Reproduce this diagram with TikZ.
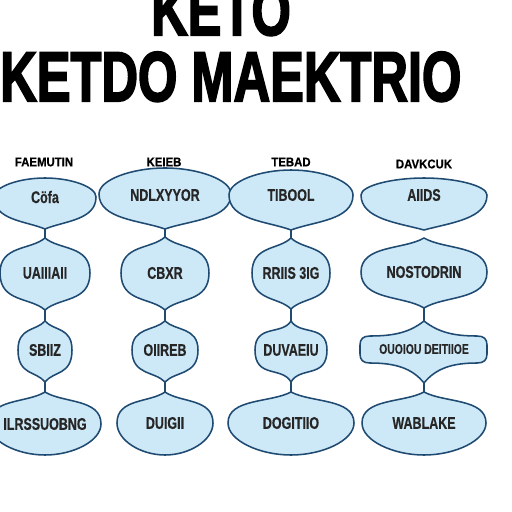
\documentclass[tikz,border=0pt]{standalone}
\usepackage{fontspec}
\setmainfont{Liberation Sans}
\newfontfamily\titlefont[FakeBold=3]{Liberation Sans Bold}
\newfontfamily\lblfont[FakeBold=0.6]{Liberation Sans Bold}
\usetikzlibrary{positioning}

\definecolor{blobfill}{HTML}{CDE8F6}
\definecolor{blobline}{HTML}{1F4A72}

\tikzset{
    blob/.style={draw=blobline, fill=blobfill, line width=1.1pt},
    link/.style={draw=blobline, line width=1.1pt},
    lbl/.style={font=\lblfont\fontsize{12}{12}\selectfont, text=black!85, xscale=0.74, inner sep=0pt},
    head/.style={font=\lblfont\fontsize{9}{9}\selectfont, xscale=0.9, inner sep=0pt},
    title/.style={font=\titlefont\fontsize{50}{50}\selectfont, xscale=0.72, inner sep=0pt}
}

% name, cx, cy, half width, top, bottom, top tip, bottom tip
\newcommand{\blob}[8]{%
    \pgfmathsetmacro{\bxl}{#2 - #4}%
    \pgfmathsetmacro{\bxr}{#2 + #4}%
    \pgfmathsetmacro{\bxa}{#2 - (0.5 - 0.5*#7)*#4}%
    \pgfmathsetmacro{\bxb}{#2 + (0.5 - 0.5*#7)*#4}%
    \pgfmathsetmacro{\bxc}{#2 - (0.5 - 0.5*#8)*#4}%
    \pgfmathsetmacro{\bxd}{#2 + (0.5 - 0.5*#8)*#4}%
    \pgfmathsetmacro{\bya}{#5 + #7*(#3 - #5)}%
    \pgfmathsetmacro{\byb}{#3 - (0.55 + 0.7*#7)*(#3 - #5)}%
    \pgfmathsetmacro{\byc}{#3 + (0.55 + 0.7*#8)*(#6 - #3)}%
    \pgfmathsetmacro{\byd}{#6 - #8*(#6 - #3)}%
    \draw [blob] (#2, #5) .. controls (\bxb, \bya) and (\bxr, \byb) .. (\bxr, #3)
        .. controls (\bxr, \byc) and (\bxd, \byd) .. (#2, #6)
        .. controls (\bxc, \byd) and (\bxl, \byc) .. (\bxl, #3)
        .. controls (\bxl, \byb) and (\bxa, \bya) .. cycle;
    \coordinate (#1-t) at (#2, #5);
    \coordinate (#1-b) at (#2, #6);
}

\begin{document}
\begin{tikzpicture}[x=0.025cm, y=-0.025cm]
    \useasboundingbox (0, 0) rectangle (512, 512);
    % Title
    \node [title, anchor=base] (keto) at (221, 35) {KETO};
    \node [title, anchor=base west] (ketdo) at (0, 101) {KETDO MAEKTRIO};
    % Headers
    \node [head] (h1) at (44, 162) {FAEMUTIN};
    \node [head] (h2) at (164, 162) {KEIEB};
    \node [head] (h3) at (291, 162) {TEBAD};
    \node [head] (h4) at (424, 164) {DAVKCUK};
    % Column 1
    \blob{a1}{45}{197}{51}{178}{229}{0}{0.25}
    \blob{b1}{45}{273}{45}{238}{310}{0.35}{0.35}
    \blob{c1}{45}{350}{27}{321}{382}{0.35}{0.35}
    \blob{d1}{45}{424}{56}{392}{455}{0.35}{0}
    % Column 2
    \blob{a2}{165}{194}{66}{168}{229}{0}{0.25}
    \blob{b2}{165}{273}{44}{237}{310}{0.35}{0.35}
    \blob{c2}{165}{350}{33}{321}{382}{0.35}{0.35}
    \blob{d2}{165}{423}{48}{392}{455}{0.35}{0}
    % Column 3
    \blob{a3}{291}{195}{62}{170}{230}{0}{0.25}
    \blob{b3}{291}{273}{39}{238}{309}{0.35}{0.35}
    \blob{c3}{291}{350}{36}{321}{382}{0.5}{0.5}
    \blob{d3}{291}{423}{63}{392}{455}{0.35}{0}
    % Column 4
    \blob{a4}{424}{195}{63}{178}{230}{0}{0.2}
    \blob{b4}{424}{272}{63}{238}{308}{0.35}{0.35}
    \draw [blob] (424, 321) .. controls (410, 332) and (395, 336) .. (370, 336)
        .. controls (363, 336) and (360, 339) .. (360, 345) -- (360, 354)
        .. controls (360, 360) and (363, 363) .. (370, 363)
        .. controls (395, 363) and (412, 368) .. (424, 383)
        .. controls (436, 368) and (453, 363) .. (477, 363)
        .. controls (484, 363) and (487, 360) .. (487, 354) -- (487, 345)
        .. controls (487, 339) and (484, 336) .. (477, 336)
        .. controls (453, 336) and (438, 332) .. cycle;
    \coordinate (c4-t) at (424, 321);
    \coordinate (c4-b) at (424, 383);
    \blob{d4}{424}{423}{62}{392}{455}{0.35}{0}
    % Links
    \foreach \c in {1, 2, 3}
        \draw [link] (a\c-b) -- (b\c-t);
    \foreach \c in {1, ..., 4} {
        \draw [link] (b\c-b) -- (c\c-t);
        \draw [link] (c\c-b) -- (d\c-t);
    }
    % Labels
    \node [lbl] (ta1) at (45, 197) {Cöfa};
    \node [lbl] (tb1) at (45, 273) {UAIIIAII};
    \node [lbl] (tc1) at (45, 350) {SBIIZ};
    \node [lbl] (td1) at (45, 424) {ILRSSUOBNG};
    \node [lbl] (ta2) at (165, 195) {NDLXYYOR};
    \node [lbl] (tb2) at (165, 273) {CBXR};
    \node [lbl] (tc2) at (165, 350) {OIIREB};
    \node [lbl] (td2) at (165, 423) {DUIGII};
    \node [lbl] (ta3) at (291, 195) {TIBOOL};
    \node [lbl] (tb3) at (291, 273) {RRIIS 3IG};
    \node [lbl] (tc3) at (291, 350) {DUVAEIU};
    \node [lbl] (td3) at (291, 423) {DOGITIIO};
    \node [lbl] (ta4) at (424, 195) {AIIDS};
    \node [lbl] (tb4) at (424, 272) {NOSTODRIN};
    \node [lbl, font=\lblfont\fontsize{10}{10}\selectfont] (tc4) at (424, 349) {OUOIOU DEITIIOE};
    \node [lbl] (td4) at (424, 423) {WABLAKE};
\end{tikzpicture}
\end{document}
